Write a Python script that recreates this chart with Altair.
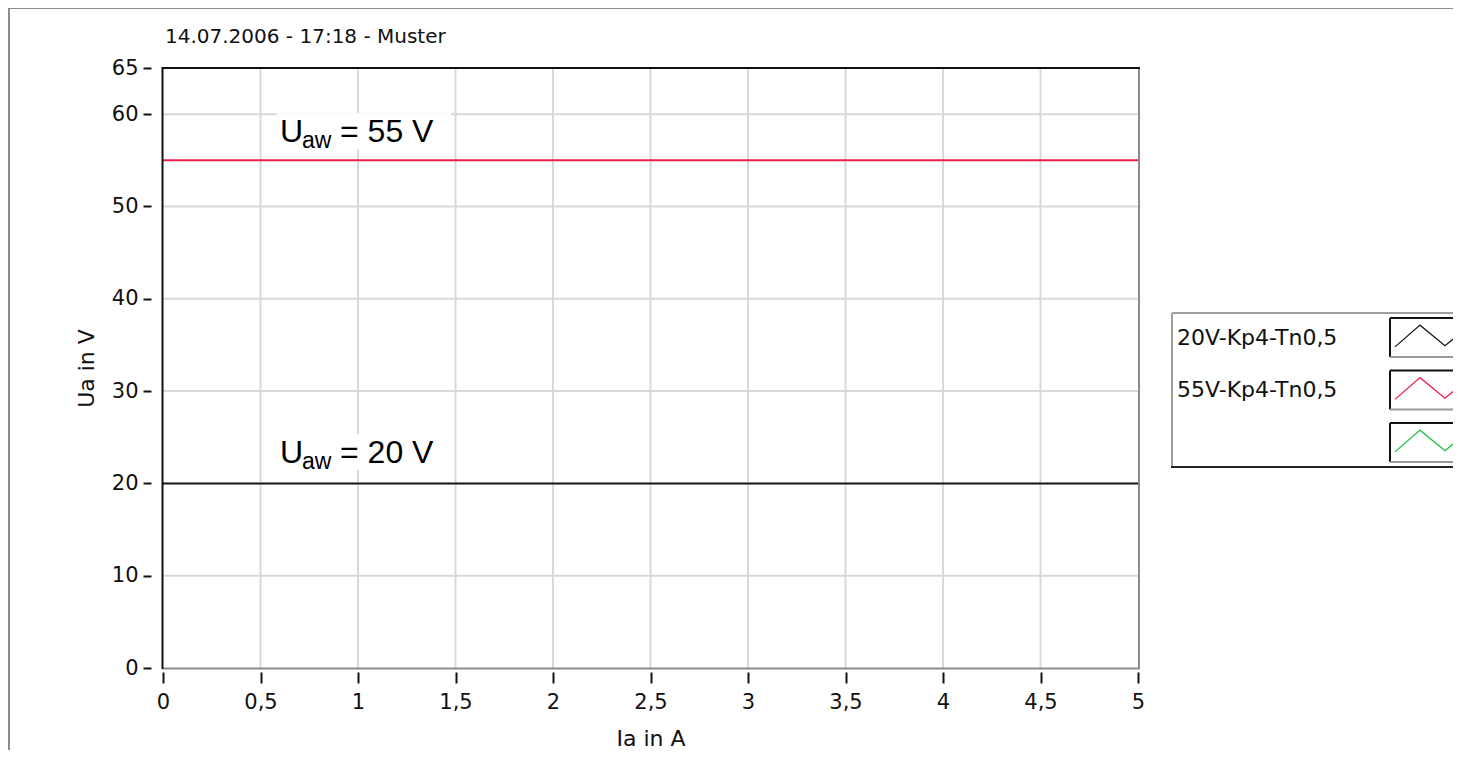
import altair as alt
import pandas as pd

# ---------------- data ----------------
ia_values = [0, 5]
ua_20 = [20, 20]
ua_55 = [55, 55]

series_names = ["20V-Kp4-Tn0,5", "55V-Kp4-Tn0,5", ""]
series_colors = ["#1a1a1a", "#ec1c4b", "#1fbf3f"]

x_ticks = [0, 0.5, 1, 1.5, 2, 2.5, 3, 3.5, 4, 4.5, 5]
y_ticks = [0, 10, 20, 30, 40, 50, 60, 65]
y_grid = [10, 20, 30, 40, 50, 60]

chart_title = "14.07.2006 - 17:18 - Muster"
x_title = "Ia in A"
y_title = "Ua in V"

ann_main = ["= 55 V", "= 20 V"]
ann_sub = ["aw", "aw"]
ann_x = [0.6, 0.6]
ann_y = [57.0, 22.2]
box_x = [0.585, 0.585]
box_x2 = [1.477, 1.477]
box_y = [60.1, 25.35]
box_y2 = [56.2, 21.45]

# ---------------- layout ----------------
W, H = 975, 600
FONT = "DejaVu Sans"
FS_TICK = 21
FS_TITLE = 22

xs = alt.Scale(domain=[0, 5], nice=False, zero=False)
ys = alt.Scale(domain=[0, 65], nice=False, zero=False)

lines_df = pd.DataFrame({
    "ia": ia_values * 2,
    "ua": ua_20 + ua_55,
    "serie": [series_names[0]] * 2 + [series_names[1]] * 2,
})
ann_df = pd.DataFrame({"x": ann_x, "y": ann_y, "main": ann_main, "sub": ann_sub,
                       "bx": box_x, "bx2": box_x2, "by": box_y, "by2": box_y2})

x_axis = alt.Axis(
    values=x_ticks, grid=False, domain=False, offset=4, tickSize=11,
    tickWidth=2, tickColor="#111", labelPadding=8, labelFlush=False,
    labelExpr="replace(format(datum.value, '~g'), '.', ',')",
    labelFont=FONT, labelFontSize=FS_TICK, labelColor="#111",
    title=x_title, titleFont=FONT, titleFontSize=FS_TITLE, titleFontWeight="normal",
    titleColor="#111", titlePadding=16)
y_axis = alt.Axis(
    values=y_ticks, grid=False, domain=False, offset=12, tickSize=8,
    tickWidth=2, tickColor="#111", labelPadding=5, labelFlush=False,
    labelFont=FONT, labelFontSize=FS_TICK, labelColor="#111",
    title=y_title, titleFont=FONT, titleFontSize=FS_TITLE, titleFontWeight="normal",
    titleColor="#111", titlePadding=13)

# grid
vgrid = alt.Chart(pd.DataFrame({"g": x_ticks[1:-1]})).mark_rule(
    color="#d9d9d9", strokeWidth=2).encode(x=alt.X("g:Q", scale=xs, axis=None))
hgrid = alt.Chart(pd.DataFrame({"g": y_grid})).mark_rule(
    color="#d9d9d9", strokeWidth=2).encode(y=alt.Y("g:Q", scale=ys, axis=None))

# annotation background boxes
boxes = alt.Chart(ann_df).mark_rect(color="white").encode(
    x=alt.X("bx:Q", scale=xs, axis=None), x2="bx2:Q",
    y=alt.Y("by:Q", scale=ys, axis=None), y2="by2:Q")

# data lines carrying the axes
lines = alt.Chart(lines_df).mark_line(strokeWidth=2).encode(
    x=alt.X("ia:Q", scale=xs, axis=x_axis),
    y=alt.Y("ua:Q", scale=ys, axis=y_axis),
    color=alt.Color("serie:N", scale=alt.Scale(domain=series_names[:2],
                                               range=series_colors[:2]), legend=None),
    detail="serie:N")

# plot frame (3D style)
def vrule(x, y0, y1, color, w=2):
    return alt.Chart().mark_rule(color=color, strokeWidth=w).encode(
        x=alt.value(x), y=alt.value(y0), y2=alt.value(y1))

def hrule(y, x0, x1, color, w=2):
    return alt.Chart().mark_rule(color=color, strokeWidth=w).encode(
        y=alt.value(y), x=alt.value(x0), x2=alt.value(x1))

frame = [
    vrule(W + 1, 0, H + 1, "#8c8c8c"),
    hrule(H + 0.5, -1, W + 2, "#8c8c8c"),
    vrule(-0.5, -1, H + 1, "#111"),
    hrule(0, -1, W + 2, "#111"),
]

# annotations
ann_u = alt.Chart(ann_df).mark_text(
    text="U", font="Liberation Sans", fontSize=32, align="left",
    baseline="alphabetic", color="#000").encode(
    x=alt.X("x:Q", scale=xs, axis=None), y=alt.Y("y:Q", scale=ys, axis=None))
ann_s = alt.Chart(ann_df).mark_text(
    font="Liberation Sans", fontSize=23, align="left", baseline="alphabetic",
    dx=22, dy=6, color="#000").encode(
    x=alt.X("x:Q", scale=xs, axis=None), y=alt.Y("y:Q", scale=ys, axis=None),
    text="sub:N")
ann_m = alt.Chart(ann_df).mark_text(
    font="Liberation Sans", fontSize=32, align="left", baseline="alphabetic",
    dx=60, color="#000").encode(
    x=alt.X("x:Q", scale=xs, axis=None), y=alt.Y("y:Q", scale=ys, axis=None),
    text="main:N")

# title
title = alt.Chart().mark_text(
    text=chart_title, font=FONT, fontSize=20, align="left",
    baseline="alphabetic", color="#111").encode(x=alt.value(2), y=alt.value(-25))

# outer frame of the panel
outer = [
    vrule(-154, -60, 700, "#8c8c8c"),
    hrule(-60, -155, 1320, "#8c8c8c"),
]

# legend
LX, LY, LB = 1009, 245, 399
legend_layers = [
    hrule(LY, LX, 1320, "#a0a0a0"),
    vrule(LX, LY, LB, "#a0a0a0"),
    hrule(LB, LX - 1, 1320, "#222"),
]
zig = "M-1,0.25L-0.333,-0.33L0.333,0.22L1,-0.33"
for i, (name, col) in enumerate(zip(series_names, series_colors)):
    top = 250 + i * 52.5
    bot = top + 39
    cy = (top + bot) / 2
    legend_layers += [
        hrule(top, 1227, 1320, "#111"),
        vrule(1227, top, bot, "#111"),
        hrule(bot, 1227, 1320, "#9a9a9a"),
        alt.Chart().mark_point(shape=zig, size=5625, filled=False, color=col,
                               strokeWidth=1.3, opacity=1).encode(
            x=alt.value(1269.5), y=alt.value(cy)),
    ]
    if name:
        legend_layers.append(alt.Chart().mark_text(
            text=name, font=FONT, fontSize=22, align="left", baseline="middle",
            color="#111").encode(x=alt.value(1014), y=alt.value(cy)))

chart = alt.layer(
    vgrid, hgrid, boxes, lines, *frame, ann_u, ann_s, ann_m, title,
    *outer, *legend_layers
).resolve_axis(x="independent", y="independent").properties(
    width=W, height=H,
    autosize=alt.AutoSizeParams(type="none"),
    padding={"left": 155, "top": 60, "right": 315, "bottom": 82},
    background="white",
).configure_view(stroke=None)

chart.save("out.html", embed_options={"renderer": "svg", "actions": False})
